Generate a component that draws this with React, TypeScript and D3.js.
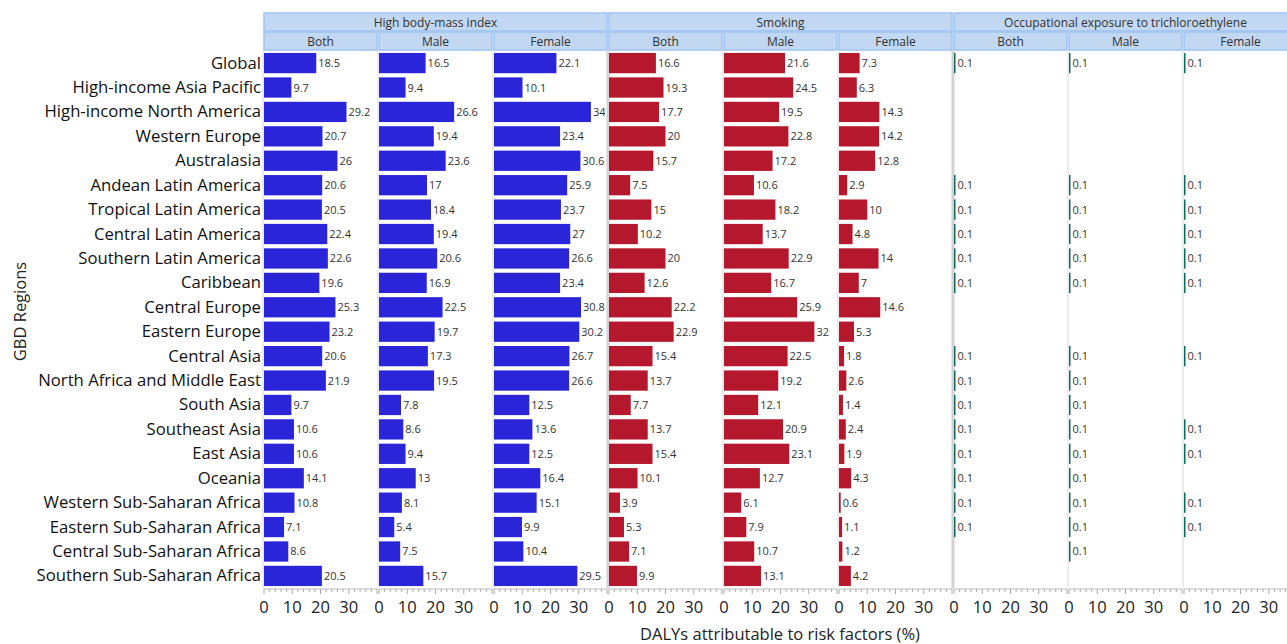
import React from "react";
import * as d3 from "d3";

const regions = [
  "Global", "High-income Asia Pacific", "High-income North America", "Western Europe",
  "Australasia", "Andean Latin America", "Tropical Latin America", "Central Latin America",
  "Southern Latin America", "Caribbean", "Central Europe", "Eastern Europe", "Central Asia",
  "North Africa and Middle East", "South Asia", "Southeast Asia", "East Asia", "Oceania",
  "Western Sub-Saharan Africa", "Eastern Sub-Saharan Africa", "Central Sub-Saharan Africa",
  "Southern Sub-Saharan Africa",
];

const factors = ["High body-mass index", "Smoking", "Occupational exposure to trichloroethylene"];
const sexes = ["Both", "Male", "Female"];
const factorColors = ["#2b25d9", "#b5172d", "#0b6b5e"];

const bmiBoth = [18.5, 9.7, 29.2, 20.7, 26, 20.6, 20.5, 22.4, 22.6, 19.6, 25.3, 23.2, 20.6, 21.9, 9.7, 10.6, 10.6, 14.1, 10.8, 7.1, 8.6, 20.5];
const bmiMale = [16.5, 9.4, 26.6, 19.4, 23.6, 17, 18.4, 19.4, 20.6, 16.9, 22.5, 19.7, 17.3, 19.5, 7.8, 8.6, 9.4, 13, 8.1, 5.4, 7.5, 15.7];
const bmiFemale = [22.1, 10.1, 34.3, 23.4, 30.6, 25.9, 23.7, 27, 26.6, 23.4, 30.8, 30.2, 26.7, 26.6, 12.5, 13.6, 12.5, 16.4, 15.1, 9.9, 10.4, 29.5];
const smokeBoth = [16.6, 19.3, 17.7, 20, 15.7, 7.5, 15, 10.2, 20, 12.6, 22.2, 22.9, 15.4, 13.7, 7.7, 13.7, 15.4, 10.1, 3.9, 5.3, 7.1, 9.9];
const smokeMale = [21.6, 24.5, 19.5, 22.8, 17.2, 10.6, 18.2, 13.7, 22.9, 16.7, 25.9, 32, 22.5, 19.2, 12.1, 20.9, 23.1, 12.7, 6.1, 7.9, 10.7, 13.1];
const smokeFemale = [7.3, 6.3, 14.3, 14.2, 12.8, 2.9, 10, 4.8, 14, 7, 14.6, 5.3, 1.8, 2.6, 1.4, 2.4, 1.9, 4.3, 0.6, 1.1, 1.2, 4.2];
const n = null;
const tceBoth = [0.1, n, n, n, n, 0.1, 0.1, 0.1, 0.1, 0.1, n, n, 0.1, 0.1, 0.1, 0.1, 0.1, 0.1, 0.1, 0.1, n, n];
const tceMale = [0.1, n, n, n, n, 0.1, 0.1, 0.1, 0.1, 0.1, n, n, 0.1, 0.1, 0.1, 0.1, 0.1, 0.1, 0.1, 0.1, 0.1, n];
const tceFemale = [0.1, n, n, n, n, 0.1, 0.1, 0.1, 0.1, 0.1, n, n, 0.1, n, n, 0.1, 0.1, n, 0.1, 0.1, n, n];

const xTicks = [0, 10, 20, 30];

const series: (number | null)[][][] = [
  [bmiBoth, bmiMale, bmiFemale],
  [smokeBoth, smokeMale, smokeFemale],
  [tceBoth, tceMale, tceFemale],
];

const width = 1287;
const height = 644;
const left = 263;
const panelW = 115;
const top = 13;
const headH = 19;
const plotTop = 51;
const plotBottom = 588;
const font = "'Segoe UI', 'Open Sans', 'Noto Sans', sans-serif";

export default function App() {
  const y = d3.scaleBand<string>().domain(regions).range([plotTop, plotBottom]).paddingInner(0.17).paddingOuter(0.08);
  const x = d3.scaleLinear().domain([0, 40]).range([1, panelW - 1]);
  const minor = d3.range(0, 41, 2);

  return (
    <svg width={width} height={height} style={{ position: "absolute", left: 0, top: 0, fontFamily: font }}>
      <defs>
        {d3.range(9).map((p) => (
          <clipPath id={`clip${p}`} key={p}>
            <rect x={left + p * panelW} y={plotTop} width={panelW - 3} height={plotBottom - plotTop} />
          </clipPath>
        ))}
      </defs>

      {/* headers */}
      {factors.map((f, fi) => {
        const gx = left + fi * panelW * 3;
        return (
          <g key={f}>
            <rect x={gx + 1} y={top} width={panelW * 3 - 2} height={headH - 1} fill="#c2d7f1" stroke="#9cc3f3" strokeWidth={1.5} />
            <text x={gx + (panelW * 3) / 2} y={top + 13.5} textAnchor="middle" fontSize={12} fill="#333">{f}</text>
            {sexes.map((s, si) => (
              <g key={s}>
                <rect x={gx + si * panelW + 1} y={top + headH} width={panelW - 2} height={headH - 1} fill="#c2d7f1" stroke="#9cc3f3" strokeWidth={1.5} />
                <text x={gx + si * panelW + panelW / 2} y={top + headH + 13.5} textAnchor="middle" fontSize={12} fill="#333">{s}</text>
              </g>
            ))}
          </g>
        );
      })}

      {/* panels */}
      {series.map((group, fi) =>
        group.map((vals, si) => {
          const p = fi * 3 + si;
          const px = left + p * panelW;
          return (
            <g key={p}>
              <line x1={px} x2={px} y1={plotTop} y2={plotBottom} stroke={si === 0 && fi > 0 ? "#d2d2d2" : "#dadada"} strokeWidth={si === 0 && fi > 0 ? 3 : 1} />
              <g clipPath={`url(#clip${p})`}>
                {vals.map((v, i) => {
                  if (v === null) return null;
                  const w = Math.max(x(v) - x(0), 1.5);
                  return (
                    <g key={i}>
                      <rect x={px + x(0)} y={y(regions[i])!} width={w} height={y.bandwidth()} fill={factorColors[fi]} />
                      <text x={px + x(0) + w + 2} y={y(regions[i])! + y.bandwidth() / 2 + 4} fontSize={11} fill="#333">{v}</text>
                    </g>
                  );
                })}
              </g>
              {/* axis */}
              <line x1={px + x(0)} x2={px + x(40)} y1={plotBottom + 1} y2={plotBottom + 1} stroke="#bbb" />
              {minor.map((t) => (
                <line key={t} x1={px + x(t)} x2={px + x(t)} y1={plotBottom + 1} y2={plotBottom + (t % 10 === 0 ? 6 : 4)} stroke="#aaa" />
              ))}
              {xTicks.map((t) => (
                <text key={t} x={px + x(t)} y={plotBottom + 25} textAnchor="middle" fontSize={16.5} fill="#222">{t}</text>
              ))}
            </g>
          );
        })
      )}

      {/* region labels */}
      {regions.map((r) => (
        <text key={r} x={left - 2} y={y(r)! + y.bandwidth() / 2 + 5.5} textAnchor="end" fontSize={16.7} fill="#111">{r}</text>
      ))}

      <text transform={`translate(26,${(plotTop + plotBottom) / 2 - 8}) rotate(-90)`} textAnchor="middle" fontSize={16.5} fill="#222">GBD Regions</text>
      <text x={780} y={640} textAnchor="middle" fontSize={16.5} fill="#222">DALYs attributable to risk factors (%)</text>
    </svg>
  );
}
